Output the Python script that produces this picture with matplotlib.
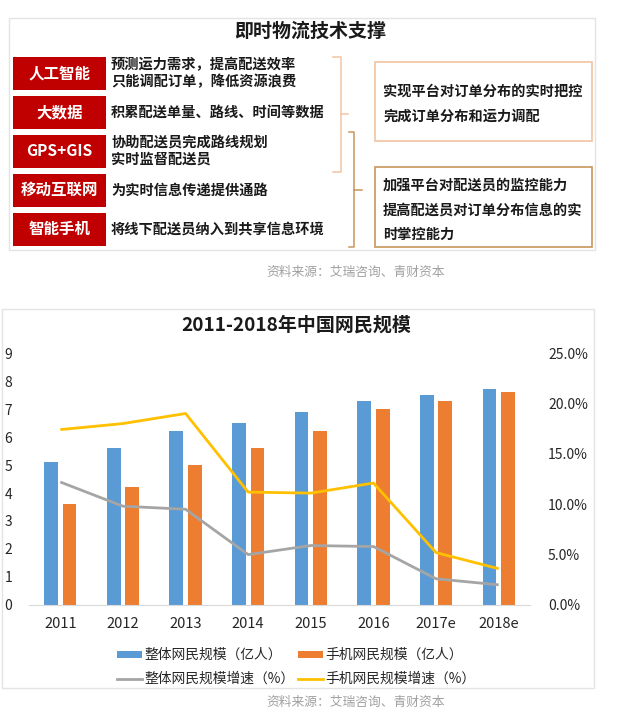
import matplotlib
matplotlib.use('Agg')
import matplotlib.pyplot as plt
from matplotlib.patches import Rectangle
from matplotlib.lines import Line2D
import numpy as np

plt.rcParams['font.family'] = ['Noto Sans CJK SC', 'DejaVu Sans']

# ---------------- data ----------------
diagram_title = "即时物流技术支撑"
tech_labels = ["人工智能", "大数据", "GPS+GIS", "移动互联网", "智能手机"]
tech_desc = [["预测运力需求，提高配送效率", "只能调配订单，降低资源浪费"],
             ["积累配送单量、路线、时间等数据"],
             ["协助配送员完成路线规划", "实时监督配送员"],
             ["为实时信息传递提供通路"],
             ["将线下配送员纳入到共享信息环境"]]
outcome_1 = ["实现平台对订单分布的实时把控", "完成订单分布和运力调配"]
outcome_2 = ["加强平台对配送员的监控能力", "提高配送员对订单分布信息的实", "时掌控能力"]
source_text = "资料来源：艾瑞咨询、青财资本"

chart_title = "2011-2018年中国网民规模"
years = ["2011", "2012", "2013", "2014", "2015", "2016", "2017e", "2018e"]
total_users = [5.1, 5.6, 6.2, 6.5, 6.9, 7.3, 7.5, 7.7]        # 亿人
mobile_users = [3.6, 4.2, 5.0, 5.6, 6.2, 7.0, 7.3, 7.6]       # 亿人
total_growth = [12.2, 9.8, 9.5, 5.0, 5.9, 5.8, 2.6, 2.0]      # %
mobile_growth = [17.4, 18.0, 19.0, 11.2, 11.1, 12.1, 5.2, 3.6]  # %
left_ticks = list(range(0, 10))
right_ticks = [0, 5, 10, 15, 20, 25]
legend_labels = ["整体网民规模（亿人）", "手机网民规模（亿人）",
                 "整体网民规模增速（%）", "手机网民规模增速（%）"]

# ---------------- figure ----------------
W, H = 619, 723
fig = plt.figure(figsize=(W / 100, H / 100), dpi=100)
bg = fig.add_axes([0, 0, 1, 1])
bg.set_xlim(0, W)
bg.set_ylim(H, 0)
bg.axis('off')

PT = 0.72  # px -> pt

RED = '#C00000'
TXT = '#1A1A1A'
PEACH = '#F2C4A2'
TAN = '#C8965A'

# top frame
bg.add_patch(Rectangle((9, 18), 586, 232, fill=False, ec='#E4E4E4', lw=1))
bg.text(310, 31, diagram_title, ha='center', va='center', fontsize=19 * PT,
        fontweight='bold', color=TXT)

box_tops = [57, 96, 135, 174, 213]
box_h = 32.5
for top, lab, desc in zip(box_tops, tech_labels, tech_desc):
    bg.add_patch(Rectangle((13, top), 93, box_h, fc=RED, ec='none'))
    cy = top + box_h / 2
    bg.text(59.5, cy, lab, ha='center', va='center', color='white',
            fontsize=15.5 * PT, fontweight='bold')
    if len(desc) == 1:
        ys = [cy]
    else:
        ys = [cy - 8.5, cy + 8.5]
    for y, line in zip(ys, desc):
        bg.text(111, y, line, ha='left', va='center', color=TXT,
                fontsize=14.2 * PT, fontweight='bold')

# brackets
bg.plot([333, 341, 341, 333], [57, 57, 172, 172], color=PEACH, lw=1.1)
bg.plot([341, 348], [114, 114], color=PEACH, lw=1.1)
bg.plot([349, 354, 354, 349], [132, 132, 247, 247], color=TAN, lw=1.1)
bg.plot([354, 362], [190, 190], color=TAN, lw=1.1)

# outcome boxes
bg.add_patch(Rectangle((375, 62), 217, 79, fill=False, ec=PEACH, lw=1.2))
for y, line in zip([92, 117], outcome_1):
    bg.text(383, y, line, ha='left', va='center', color=TXT,
            fontsize=14.2 * PT, fontweight='bold')
bg.add_patch(Rectangle((375, 167), 217, 80, fill=False, ec=TAN, lw=1.2))
for y, line in zip([186, 211, 235], outcome_2):
    bg.text(383, y, line, ha='left', va='center', color=TXT,
            fontsize=14.2 * PT, fontweight='bold')

bg.text(356, 272, source_text, ha='center', va='center', color='#A0A0A0',
        fontsize=12.8 * PT)

# ---------------- chart ----------------
bg.add_patch(Rectangle((2, 309), 592, 379, fill=False, ec='#E4E4E4', lw=1))
bg.text(296, 325, chart_title, ha='center', va='center', color=TXT,
        fontsize=19 * PT, fontweight='bold')

L, R, T, B = 29, 530, 353, 605
ax = fig.add_axes([L / W, 1 - B / H, (R - L) / W, (B - T) / H])
ax.patch.set_alpha(0)
x = np.arange(len(years))
bw = 0.22
off = 0.148
ax.bar(x - off, total_users, width=bw, color='#5B9BD5', zorder=2)
ax.bar(x + off, mobile_users, width=bw, color='#ED7D31', zorder=2)
ax.set_xlim(-0.5, len(years) - 0.5)
ax.set_ylim(0, 9)
ax.set_yticks(left_ticks)
ax.set_yticklabels([str(t) for t in left_ticks])
ax.set_xticks(x)
ax.set_xticklabels(years)
for s in ['top', 'left', 'right']:
    ax.spines[s].set_visible(False)
ax.spines['bottom'].set_color('#D9D9D9')
ax.tick_params(axis='y', length=0, pad=12, labelsize=10, labelcolor='#262626')
ax.tick_params(axis='x', length=0, pad=9, labelsize=10.5, labelcolor='#262626')

ax2 = ax.twinx()
ax2.plot(x, total_growth, color='#A5A5A5', lw=2.0, zorder=3, solid_capstyle='butt')
ax2.plot(x, mobile_growth, color='#FFC000', lw=2.0, zorder=3, solid_capstyle='butt')
ax2.set_ylim(0, 25)
ax2.set_yticks(right_ticks)
ax2.set_yticklabels([f"{t:.1f}%" for t in right_ticks])
for s in ['top', 'left', 'right', 'bottom']:
    ax2.spines[s].set_visible(False)
ax2.tick_params(axis='y', length=0, pad=13, labelsize=10, labelcolor='#262626')

# legend (manual)
leg_fs = 13.8 * PT
bg.add_patch(Rectangle((117, 651), 25, 7, fc='#5B9BD5', ec='none'))
bg.text(144, 654.5, legend_labels[0], ha='left', va='center', fontsize=leg_fs, color='#262626')
bg.add_patch(Rectangle((298, 651), 25, 7, fc='#ED7D31', ec='none'))
bg.text(325, 654.5, legend_labels[1], ha='left', va='center', fontsize=leg_fs, color='#262626')
bg.add_line(Line2D([117, 142], [679, 679], color='#A5A5A5', lw=2))
bg.text(144, 679, legend_labels[2], ha='left', va='center', fontsize=leg_fs, color='#262626')
bg.add_line(Line2D([298, 323], [679, 679], color='#FFC000', lw=2))
bg.text(325, 679, legend_labels[3], ha='left', va='center', fontsize=leg_fs, color='#262626')

bg.text(356, 702, source_text, ha='center', va='center', color='#A0A0A0',
        fontsize=12.8 * PT)

fig.savefig('out.png', dpi=100)
